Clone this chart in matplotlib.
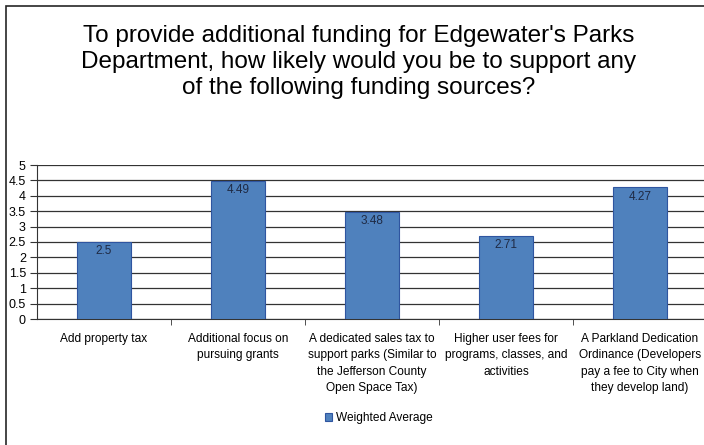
import numpy as np
import matplotlib
matplotlib.use('Agg')
from matplotlib import pyplot as plt
from matplotlib.patches import Rectangle

# Dữ liệu
categories = [
    'Add property tax',
    'Additional focus on\npursuing grants',
    'A dedicated sales tax to\nsupport parks (Similar to\nthe Jefferson County\nOpen Space Tax)',
    'Higher user fees for\nprograms, classes, and\nactivities',
    'A Parkland Dedication\nOrdinance (Developers\npay a fee to City when\nthey develop land)',
]
values = [2.5, 4.49, 3.48, 2.71, 4.27]
value_labels = ['2.5', '4.49', '3.48', '2.71', '4.27']
y_ticks = [0, 0.5, 1, 1.5, 2, 2.5, 3, 3.5, 4, 4.5, 5]
y_tick_labels = ['0', '0.5', '1', '1.5', '2', '2.5', '3', '3.5', '4', '4.5', '5']
series_name = 'Weighted Average'
title = ("To provide additional funding for Edgewater's Parks\n"
         "Department, how likely would you be to support any\n"
         "of the following funding sources?")

plt.rcParams['font.family'] = ['Liberation Sans', 'DejaVu Sans']

fig = plt.figure(figsize=(7.04, 4.45), dpi=100)

# Khung viền biểu đồ
fig.patches.append(Rectangle((6 / 704, -0.1), 1.2, 1 - 6 / 445 + 0.1,
                             transform=fig.transFigure, fill=False,
                             edgecolor='#262626', linewidth=1.2))

ax = fig.add_axes([37 / 704, 1 - 319 / 445, 670 / 704, 154 / 445])
x = np.arange(len(categories))
bars = ax.bar(x, values, width=0.4, color='#4F81BD', edgecolor='#2F55A0',
              linewidth=0.8, zorder=3, label=series_name)

for xi, v, lab in zip(x, values, value_labels):
    ax.text(xi, v - 0.1, lab, ha='center', va='top', fontsize=8.5,
            color='#1F2A44', zorder=4)

ax.set_xlim(-0.5, len(categories) - 0.5)
ax.set_ylim(0, 5)
ax.set_yticks(y_ticks)
ax.set_yticklabels(y_tick_labels, fontsize=9)
ax.yaxis.grid(True, color='#333333', linewidth=0.9, zorder=0)

ax.set_xticks(x)
ax.set_xticklabels(categories, fontsize=8.6, linespacing=1.5)
ax.set_xticks(np.arange(len(categories)) + 0.5, minor=True)
ax.tick_params(axis='x', which='major', length=0, pad=10)
ax.tick_params(axis='x', which='minor', length=4, direction='out', color='#333333')
ax.tick_params(axis='y', length=5, color='#333333', pad=3)

for s in ['top', 'right']:
    ax.spines[s].set_visible(False)
ax.spines['left'].set_color('#333333')
ax.spines['bottom'].set_color('#333333')

fig.text(359 / 704, 1 - 62 / 445, title, ha='center', va='center',
         fontsize=17.5, linespacing=1.22)

fig.legend(handles=[bars], labels=[series_name], loc='center',
           bbox_to_anchor=(379 / 704, 1 - 418 / 445), frameon=False,
           fontsize=8.6, handlelength=0.6, handleheight=0.6, handletextpad=0.3)

plt.savefig('out.png', dpi=100)
